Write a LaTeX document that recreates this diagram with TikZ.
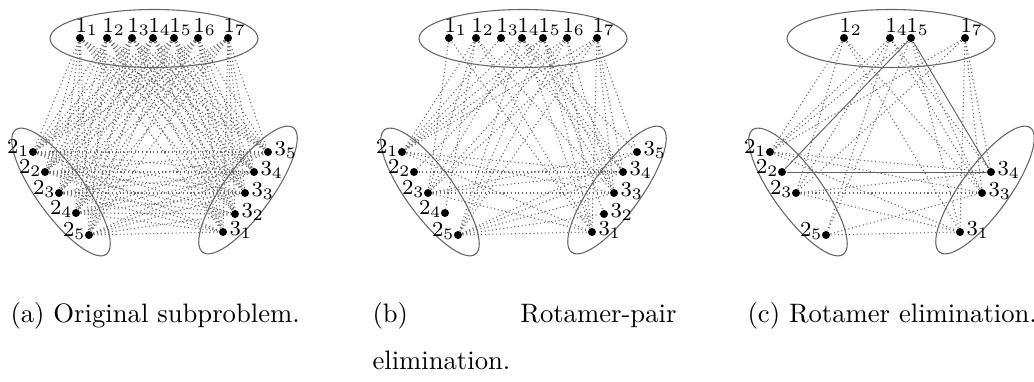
\documentclass[tikz,border=0pt]{standalone}
\usetikzlibrary{backgrounds}
\newcommand\mypanel[5]{%
  \foreach \i/\x in {#3} {
    \node[dot] (#21\i) at (#1+\x,38) {};
    \node[lab,anchor=base west] (#21\i l) at (#1+\x-5,33) {$1_{\i}$};
  }
  \foreach \i/\x/\y in {#4} {
    \node[dot] (#22\i) at (#1+\x,\y) {};
    \node[lab,anchor=base east] (#22\i l) at (#1+\x-3,\y+2) {$2_{\i}$};
  }
  \foreach \i/\x/\y in {#5} {
    \node[dot] (#23\i) at (#1+\x,\y) {};
    \node[lab,anchor=base west] (#23\i l) at (#1+\x+6,\y+4) {$3_{\i}$};
  }
}
\begin{document}
\begin{tikzpicture}[x=0.375pt,y=-0.375pt,
  dot/.style={circle,fill=black,inner sep=0pt,minimum size=3pt},
  edge/.style={densely dotted,line width=0.4pt,black!60},
  strong/.style={line width=0.35pt,black!62},
  ring/.style={draw=black!60,line width=0.4pt},
  lab/.style={font=\fontsize{8.5}{10}\selectfont,inner sep=0pt},
  captext/.style={font=\fontsize{10}{12}\selectfont,inner sep=0pt}]
\useasboundingbox (0,0) rectangle (1034,382);
% ---------- ellipses ----------
\foreach \ox in {0,369,737} {
  \draw[ring] (\ox+154,38.5) ellipse [x radius=104, y radius=29];
  \draw[ring, rotate around={-54:(\ox+61,192)}] (\ox+61,192) ellipse [x radius=77, y radius=24];
  \draw[ring, rotate around={54:(\ox+248,190)}] (\ox+248,190) ellipse [x radius=77, y radius=24];
}
% ---------- vertices ----------
\mypanel{0}{a}{1/80,2/107,3/132,4/153,5/174,6/198,7/228}{1/33/152,2/45/172,3/59/193,4/76/213,5/89/235}{1/223/232,2/235/214,3/245/193,4/254/172,5/268/152}
\mypanel{369}{b}{1/80,2/107,3/132,4/153,5/174,6/198,7/228}{1/33/152,2/45/172,3/59/193,4/76/213,5/89/235}{1/223/232,2/235/214,3/245/193,4/254/172,5/268/152}
\mypanel{737}{c}{2/107,4/153,5/174,7/228}{1/33/152,2/45/172,3/59/193,5/89/235}{1/223/232,3/245/193,4/254/172}
% ---------- edges ----------
\begin{scope}[on background layer]
  % (a) complete
  \foreach \i in {1,...,7} {
    \foreach \j in {1,...,5} {
      \draw[edge] (a1\i) -- (a2\j);
      \draw[edge] (a1\i) -- (a3\j);
    }
  }
  \foreach \i in {1,...,5} {
    \foreach \j in {1,...,5} {
      \draw[edge] (a2\i) -- (a3\j);
    }
  }
  % (b) rotamer-pair elimination
  \foreach \u/\v in {11/23,12/21,12/23,12/24,13/21,14/21,14/23,14/25,15/21,15/22,15/25,
      16/21,16/23,16/25,17/21,17/23,17/25,
      11/31,12/31,12/33,13/34,14/31,14/33,14/34,14/35,15/31,15/32,15/33,15/34,16/31,16/33,
      17/31,17/33,17/34,17/35,
      21/31,21/33,21/34,22/34,23/31,23/33,23/34,23/35,25/31,25/32,25/33,25/34,25/35} {
    \draw[edge] (b\u) -- (b\v);
  }
  % (c) rotamer elimination
  \foreach \u/\v in {12/21,12/23,12/31,12/33,14/21,14/23,14/25,14/33,14/34,
      15/21,15/25,15/31,15/33,17/21,17/23,17/31,17/33,17/34,
      21/31,21/33,21/34,23/31,23/33,23/34,25/31,25/33} {
    \draw[edge] (c\u) -- (c\v);
  }
  \foreach \u/\v in {15/22,15/34,22/34} {
    \draw[strong] (c\u) -- (c\v);
  }
\end{scope}
% ---------- captions ----------
\node[captext,anchor=base west] (capa) at (10,323) {(a) Original subproblem.};
\node[captext,anchor=base west] (capb1) at (372,323) {(b)};
\node[captext,anchor=base east] (capb2) at (677,323) {Rotamer-pair};
\node[captext,anchor=base west] (capb3) at (372,370) {elimination.};
\node[captext,anchor=base west] (capc) at (747,323) {(c) Rotamer elimination.};
\end{tikzpicture}
\end{document}
